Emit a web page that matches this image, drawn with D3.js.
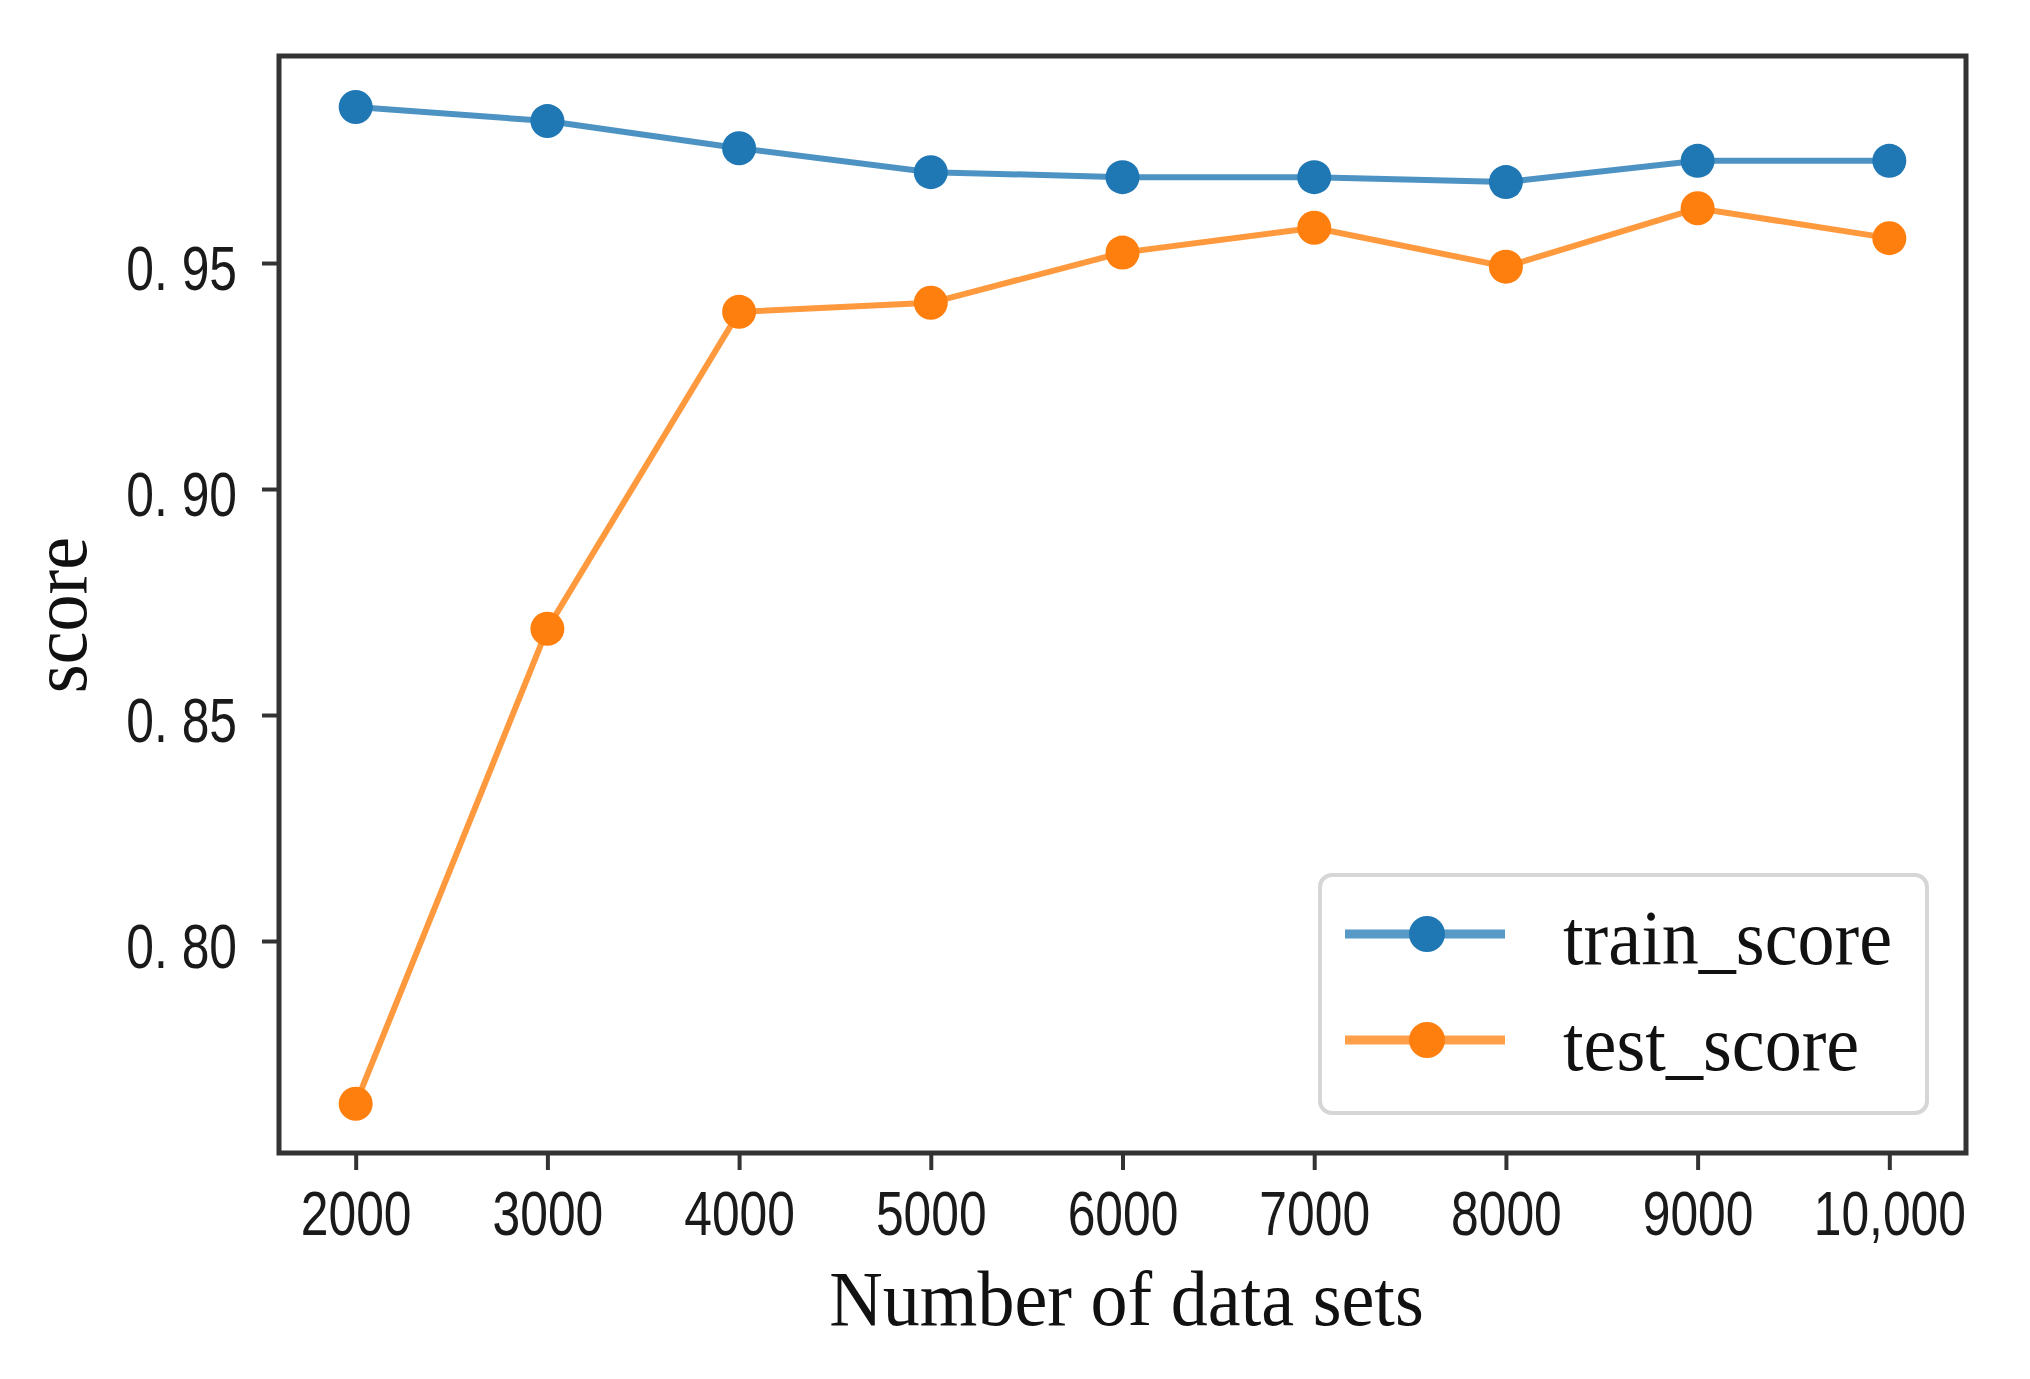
<!DOCTYPE html>
<html>
<head>
<meta charset="utf-8">
<script src="https://cdn.jsdelivr.net/npm/d3@7"></script>
<style>
    body { margin: 0; background: #fff; }
    .tick-label { font-family: "Liberation Sans", Arial, sans-serif; font-size: 63px; fill: #1a1a1a; }
    .serif { font-family: "Liberation Serif", "Times New Roman", serif; fill: #111; }
</style>
</head>
<body>
<svg class="chart"></svg>
<script>
const size = {w: 2030, h: 1379};
const margin = {top: 56, right: 64, bottom: 226, left: 279};
const narrow = 0.79; // tick font in the picture is condensed

// chart data
const dataSizes = [2000, 3000, 4000, 5000, 6000, 7000, 8000, 9000, 10000];
const xTickLabels = ['2000', '3000', '4000', '5000', '6000', '7000', '8000', '9000', '10,000'];
const trainScore = [0.9845, 0.9814, 0.9754, 0.9701, 0.9690, 0.9690, 0.9679, 0.9726, 0.9726];
const testScore = [0.7640, 0.8691, 0.9392, 0.9412, 0.9523, 0.9578, 0.9492, 0.9621, 0.9555];
const yTicks = [0.80, 0.85, 0.90, 0.95];
const yTickLabels = ['0. 80', '0. 85', '0. 90', '0. 95'];
const seriesNames = ['train_score', 'test_score'];
const colors = ['#1f77b4', '#ff7f0e'];

const svg = d3.select('svg.chart')
    .attr('width', size.w)
    .attr('height', size.h);

const innerW = size.w - margin.left - margin.right;
const innerH = size.h - margin.top - margin.bottom;

const g = svg.append('g')
    .attr('transform', `translate(${margin.left},${margin.top})`);

// matplotlib-like 5% margins on both axes
const xScale = d3.scaleLinear()
    .domain([1600, 10400])
    .range([0, innerW]);

const yScale = d3.scaleLinear()
    .domain([0.7531, 0.9958])
    .range([innerH, 0]);

// axes
const xAxis = d3.axisBottom(xScale)
    .tickValues(dataSizes)
    .tickFormat((d, i) => xTickLabels[i])
    .tickSize(17);

const yAxis = d3.axisLeft(yScale)
    .tickValues(yTicks)
    .tickFormat((d, i) => yTickLabels[i])
    .tickSize(17);

const xG = g.append('g')
    .attr('transform', `translate(0,${innerH})`)
    .call(xAxis);
const yG = g.append('g').call(yAxis);

[xG, yG].forEach(ax => {
    ax.select('.domain').remove();
    ax.selectAll('.tick line').attr('stroke', '#333').attr('stroke-width', 4);
    ax.selectAll('.tick text')
        .attr('class', 'tick-label')
        .attr('fill', null)
        .attr('transform', `scale(${narrow},1)`);
});
xG.selectAll('.tick text').attr('y', 82).attr('dy', 0);
yG.selectAll('.tick text').attr('x', -42 / narrow).attr('dy', '0.42em');

// series lines and markers
const series = [trainScore, testScore];
const lineFn = d3.line()
    .x((d, i) => xScale(dataSizes[i]))
    .y(d => yScale(d));

series.forEach((vals, s) => {
    g.append('path')
        .datum(vals)
        .attr('d', lineFn)
        .attr('fill', 'none')
        .attr('stroke', colors[s])
        .attr('stroke-opacity', 0.8)
        .attr('stroke-width', 6);

    g.append('g')
        .selectAll('circle')
        .data(vals)
        .join('circle')
        .attr('cx', (d, i) => xScale(dataSizes[i]))
        .attr('cy', d => yScale(d))
        .attr('r', 17)
        .attr('fill', colors[s]);
});

// frame
g.append('rect')
    .attr('width', innerW)
    .attr('height', innerH)
    .attr('fill', 'none')
    .attr('stroke', '#333')
    .attr('stroke-width', 5);

// axis labels
svg.append('text')
    .attr('class', 'serif')
    .attr('transform', `translate(${margin.left + innerW / 2 + 4},1325) scale(0.95,1)`)
    .attr('text-anchor', 'middle')
    .attr('font-size', 78)
    .text('Number of data sets');

svg.append('text')
    .attr('class', 'serif')
    .attr('transform', `translate(86,615) rotate(-90) scale(0.95,1)`)
    .attr('text-anchor', 'middle')
    .attr('font-size', 78)
    .text('score');

// legend
const legend = svg.append('g')
    .attr('transform', 'translate(1320,875)');

legend.append('rect')
    .attr('width', 607)
    .attr('height', 238)
    .attr('rx', 12)
    .attr('fill', '#fff')
    .attr('stroke', '#d6d6d6')
    .attr('stroke-width', 4);

const rows = legend.selectAll('g.row')
    .data(seriesNames)
    .join('g')
    .classed('row', true)
    .attr('transform', (d, i) => `translate(0,${59 + i * 106})`);

rows.append('line')
    .attr('x1', 25)
    .attr('x2', 185)
    .attr('stroke', (d, i) => colors[i])
    .attr('stroke-opacity', 0.75)
    .attr('stroke-width', 9);

rows.append('circle')
    .attr('cx', 107)
    .attr('r', 18)
    .attr('fill', (d, i) => colors[i]);

rows.append('text')
    .attr('class', 'serif')
    .attr('transform', 'translate(243,0) scale(0.95,1)')
    .attr('dy', '0.38em')
    .attr('font-size', 78)
    .text(d => d);
</script>
</body>
</html>
